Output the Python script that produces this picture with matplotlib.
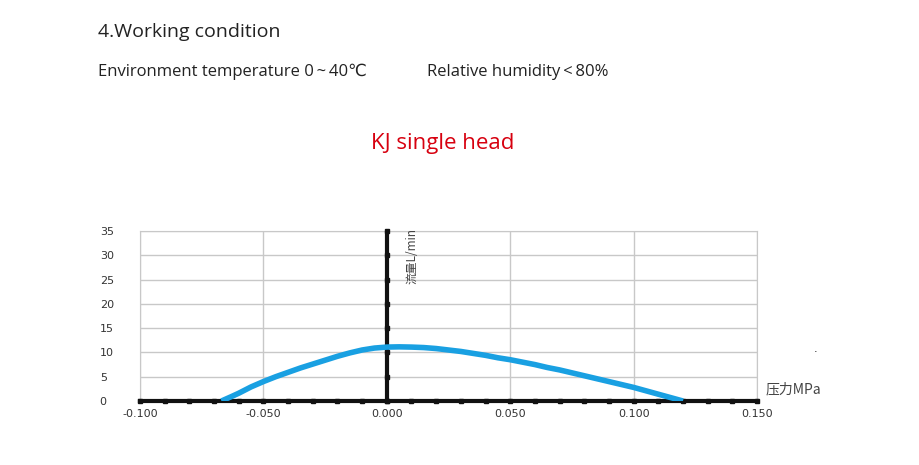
import numpy as np
import matplotlib.pyplot as plt

# pressure (MPa) vs flow (L/min)
pressure = [-0.067, -0.063, -0.06, -0.055, -0.05, -0.045, -0.04, -0.035, -0.03, -0.025,
            -0.02, -0.015, -0.01, -0.005, 0.0, 0.005, 0.01, 0.015, 0.02, 0.025,
            0.03, 0.035, 0.04, 0.045, 0.05, 0.055, 0.06, 0.065, 0.07, 0.075,
            0.08, 0.085, 0.09, 0.095, 0.10, 0.105, 0.11, 0.115, 0.12]
flow = [0.0, 0.9, 1.6, 2.9, 4.0, 5.0, 5.9, 6.8, 7.6, 8.4,
        9.2, 9.9, 10.5, 10.9, 11.1, 11.15, 11.1, 11.0, 10.8, 10.5,
        10.2, 9.8, 9.4, 8.9, 8.5, 8.0, 7.5, 6.9, 6.4, 5.8,
        5.2, 4.6, 4.0, 3.4, 2.8, 2.1, 1.4, 0.7, 0.0]

x_ticks = [-0.100, -0.050, 0.000, 0.050, 0.100, 0.150]
y_ticks = [0, 5, 10, 15, 20, 25, 30, 35]

fig = plt.figure(figsize=(9.2, 4.65), dpi=100)
fig.patch.set_facecolor('white')

head_font = ['Open Sans', 'DejaVu Sans', 'Noto Sans CJK SC']
fig.text(98/920, 1-32/465, '4.Working condition', fontsize=14, family=head_font,
         color='#222222', va='center', ha='left')
fig.text(98/920, 1-72/465, 'Environment temperature 0\u2009~\u200940\u2103', fontsize=12,
         family=head_font, color='#222222', va='center', ha='left')
fig.text(427/920, 1-72/465, 'Relative humidity\u2009<\u200980%', fontsize=12,
         family=head_font, color='#222222', va='center', ha='left')
fig.text(443/920, 1-143/465, 'KJ single head', fontsize=16, family='Open Sans',
         color='#d7000f', va='center', ha='center')

ax = fig.add_axes([140/920, 1-401/465, (757-140)/920, (401-231)/465])
ax.set_xlim(-0.1, 0.15)
ax.set_ylim(0, 35)
ax.set_xticks(x_ticks)
ax.set_yticks(y_ticks)
ax.set_xticklabels(['%.3f' % v for v in x_ticks])
ax.tick_params(length=0, labelsize=8, labelcolor='#333333')
ax.tick_params(axis='x', pad=6)
ax.tick_params(axis='y', pad=29)
for lbl in ax.get_yticklabels():
    lbl.set_horizontalalignment('left')
ax.grid(True, color='#c8c8c8', lw=1)
for s in ['left', 'top', 'right']:
    ax.spines[s].set_color('#c8c8c8')
ax.spines['bottom'].set_visible(False)

# thick axes through zero
ax.axhline(0, color='#111111', lw=3, zorder=3, clip_on=False)
ax.axvline(0, color='#111111', lw=3, zorder=3)
minor_x = np.arange(-0.1, 0.1501, 0.01)
ax.plot(minor_x, np.zeros_like(minor_x), 's', color='#111111', ms=3.5, zorder=3, clip_on=False)
ax.plot(np.zeros(len(y_ticks)), y_ticks, 's', color='#111111', ms=3.5, zorder=3, clip_on=False)

ax.plot(pressure, flow, color='#19a0e2', lw=4, solid_capstyle='butt', zorder=4)

ax.text(0.0075, 35.6, '流量L/min', rotation=90, fontsize=8.5, color='#444444',
        family=['Noto Sans CJK SC', 'DejaVu Sans'], va='top', ha='left')
ax.text(0.1535, 2.4, '压力MPa', fontsize=10, color='#444444',
        family=['Noto Sans CJK SC', 'DejaVu Sans'], va='center', ha='left', clip_on=False)
fig.text(816/920, 1-354/465, '.', fontsize=8, color='#111111', ha='center', va='bottom')

fig.savefig('out.png', dpi=100)
